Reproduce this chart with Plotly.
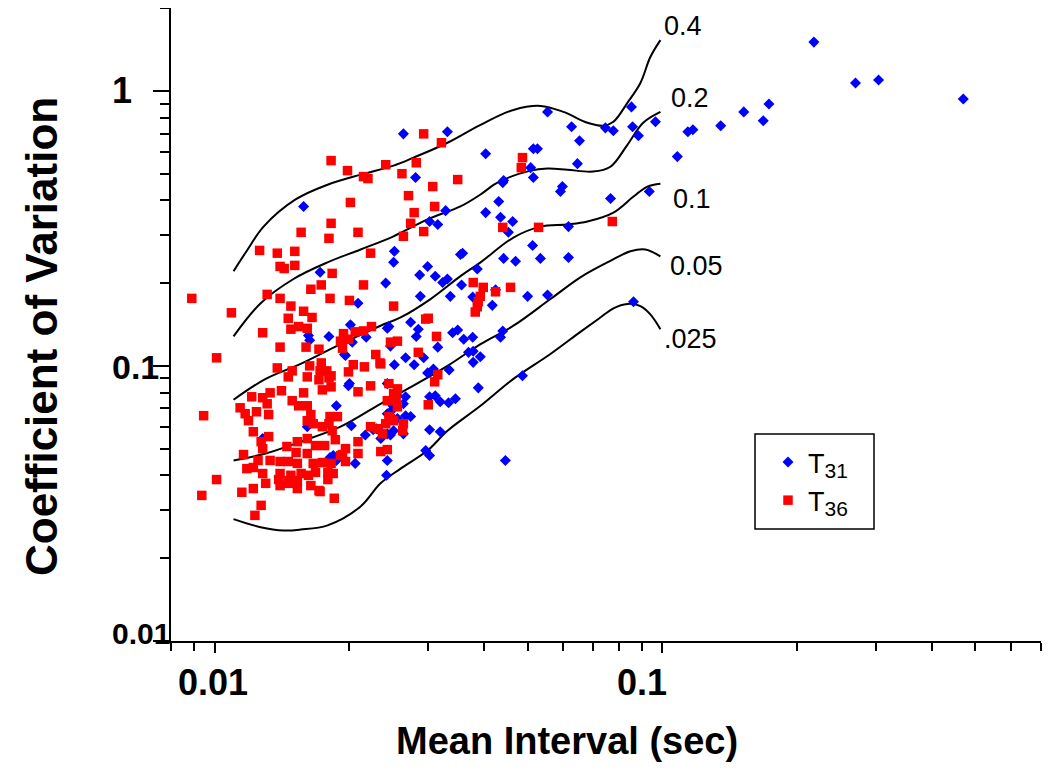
import math
import plotly.graph_objects as go

# ---------------- data ----------------
t31_x = [0.218, 0.270, 0.304, 0.470, 0.173, 0.168, 0.152, 0.135, 0.117, 0.114,
         0.108, 0.0965, 0.0853, 0.0858, 0.0884, 0.0777, 0.0746, 0.0766, 0.0935, 0.0862,
         0.0264, 0.0331, 0.0554, 0.0627, 0.0653, 0.0403, 0.0515, 0.0526, 0.0646, 0.0508,
         0.0515, 0.0442, 0.0440, 0.0598, 0.0592, 0.0431, 0.0281, 0.0328, 0.0403, 0.0435,
         0.0463, 0.0453, 0.0302, 0.0315, 0.0617, 0.0513, 0.0252, 0.0251, 0.0358, 0.0442,
         0.0470, 0.0534, 0.0617, 0.0299, 0.0287, 0.0386, 0.0241, 0.0311, 0.0323, 0.0331,
         0.0356, 0.0336, 0.0288, 0.0377, 0.0417, 0.0424, 0.0500, 0.0554, 0.0274, 0.0243,
         0.0285, 0.0282, 0.0340, 0.0349, 0.0360, 0.0377, 0.0440, 0.0435, 0.0315, 0.0247,
         0.0369, 0.0378, 0.0392, 0.0378, 0.0267, 0.0293, 0.0279, 0.0252, 0.0299, 0.0308,
         0.0334, 0.0487, 0.0388, 0.0243, 0.0302, 0.0311, 0.0319, 0.0333, 0.0345, 0.0254,
         0.0267, 0.0267, 0.0274, 0.0247, 0.0302, 0.0319, 0.0296, 0.0302, 0.0446, 0.0243,
         0.0242, 0.0158, 0.0172, 0.0209, 0.0201, 0.0245, 0.0162, 0.0163, 0.0180, 0.0203,
         0.0218, 0.0195, 0.0187, 0.0161, 0.0202, 0.0217, 0.0226, 0.0243, 0.0250, 0.0256,
         0.0243, 0.0251, 0.0184, 0.0187, 0.0206, 0.0128, 0.0181, 0.0196, 0.0200, 0.0256,
         0.0264, 0.0230, 0.0235, 0.0247, 0.0264, 0.0235, 0.0199, 0.0354]
t31_y = [1.505, 1.069, 1.096, 0.935, 0.897, 0.779, 0.839, 0.747, 0.722, 0.710,
         0.577, 0.772, 0.875, 0.741, 0.687, 0.716, 0.734, 0.406, 0.431, 0.171,
         0.698, 0.710, 0.839, 0.741, 0.659, 0.591, 0.616, 0.616, 0.544, 0.526,
         0.484, 0.472, 0.464, 0.449, 0.431, 0.396, 0.484, 0.367, 0.361, 0.347,
         0.335, 0.306, 0.335, 0.327, 0.321, 0.274, 0.261, 0.238, 0.257, 0.246,
         0.240, 0.246, 0.248, 0.230, 0.214, 0.225, 0.200, 0.212, 0.201, 0.207,
         0.197, 0.179, 0.179, 0.178, 0.166, 0.189, 0.179, 0.181, 0.144, 0.137,
         0.136, 0.128, 0.132, 0.135, 0.125, 0.127, 0.134, 0.127, 0.117, 0.118,
         0.112, 0.113, 0.108, 0.103, 0.107, 0.107, 0.101, 0.101, 0.0943, 0.0975,
         0.0967, 0.0920, 0.0832, 0.0862, 0.0772, 0.0778, 0.0741, 0.0734, 0.0759, 0.0778,
         0.0772, 0.0659, 0.0654, 0.0681, 0.0586, 0.0576, 0.0492, 0.0472, 0.0453, 0.0453,
         0.0400, 0.380, 0.219, 0.169, 0.141, 0.139, 0.129, 0.124, 0.128, 0.122,
         0.127, 0.110, 0.0716, 0.0601, 0.0606, 0.0561, 0.0586, 0.0670, 0.0716, 0.0643,
         0.0566, 0.0581, 0.0472, 0.0453, 0.0442, 0.0544, 0.0464, 0.109, 0.0862, 0.0778,
         0.0728, 0.0591, 0.0544, 0.0561, 0.0566, 0.0576, 0.0847, 0.254]

t36_x = [0.0773, 0.0293, 0.0321, 0.0241, 0.0282, 0.0262, 0.0349, 0.0307, 0.0271, 0.0310,
         0.0279, 0.0274, 0.0293, 0.0264, 0.0487, 0.0484, 0.0440, 0.0529, 0.0182, 0.0198,
         0.0201, 0.0209, 0.0215, 0.0220, 0.0182, 0.0180, 0.0156, 0.0223, 0.0126, 0.0138,
         0.0151, 0.0140, 0.0143, 0.0151, 0.0183, 0.0173, 0.0164, 0.0131, 0.0140, 0.0181,
         0.0200, 0.0215, 0.0251, 0.0109, 0.0148, 0.0158, 0.0165, 0.0146, 0.0128, 0.0148,
         0.0154, 0.0161, 0.0140, 0.0160, 0.0171, 0.0194, 0.0191, 0.0199, 0.0193, 0.0206,
         0.0215, 0.0224, 0.0101, 0.0138, 0.0149, 0.0163, 0.0173, 0.0172, 0.0178, 0.0182,
         0.0204, 0.0199, 0.0216, 0.0229, 0.0234, 0.0247, 0.0256, 0.00889, 0.00945, 0.0101,
         0.00936, 0.0115, 0.0122, 0.0127, 0.0123, 0.0185, 0.0146, 0.0161, 0.0171, 0.0180,
         0.0182, 0.0174, 0.0141, 0.0133, 0.0128, 0.0131, 0.0121, 0.0149, 0.0158, 0.0154,
         0.0161, 0.0114, 0.0117, 0.0119, 0.0124, 0.0132, 0.0164, 0.0161, 0.0122, 0.0166,
         0.0174, 0.0181, 0.0188, 0.0180, 0.0183, 0.0132, 0.0127, 0.0128, 0.0145, 0.0153,
         0.0161, 0.0168, 0.0176, 0.0186, 0.0152, 0.0161, 0.0116, 0.0125, 0.0133, 0.0140,
         0.0146, 0.0153, 0.0166, 0.0174, 0.0182, 0.0191, 0.0196, 0.0118, 0.0122, 0.0128,
         0.0140, 0.0148, 0.0156, 0.0139, 0.0146, 0.0153, 0.0162, 0.0168, 0.0179, 0.0184,
         0.0179, 0.0130, 0.0140, 0.0146, 0.0153, 0.0164, 0.0171, 0.0209, 0.0209, 0.0196,
         0.0193, 0.0223, 0.0231, 0.0241, 0.0245, 0.0251, 0.0237, 0.0223, 0.0235, 0.0243,
         0.0254, 0.0256, 0.0247, 0.0300, 0.0315, 0.0310, 0.0313, 0.0285, 0.0235, 0.0209,
         0.0245, 0.0256, 0.0251, 0.0254, 0.0243, 0.0264, 0.0263, 0.0296, 0.0300, 0.0378,
         0.0398, 0.0392, 0.0388, 0.0386, 0.0382, 0.0424, 0.0458, 0.0172]
t36_y = [0.335, 0.698, 0.648, 0.539, 0.548, 0.500, 0.476, 0.449, 0.416, 0.380,
         0.361, 0.330, 0.308, 0.296, 0.572, 0.526, 0.319, 0.319, 0.558, 0.513,
         0.393, 0.306, 0.488, 0.480, 0.330, 0.291, 0.306, 0.257, 0.263, 0.257,
         0.261, 0.230, 0.226, 0.232, 0.217, 0.197, 0.190, 0.182, 0.176, 0.176,
         0.173, 0.197, 0.165, 0.156, 0.165, 0.158, 0.150, 0.149, 0.132, 0.136,
         0.139, 0.137, 0.117, 0.117, 0.115, 0.131, 0.123, 0.125, 0.116, 0.133,
         0.134, 0.139, 0.107, 0.0983, 0.0959, 0.100, 0.1025, 0.0959, 0.0959, 0.0920,
         0.101, 0.0951, 0.0992, 0.110, 0.1025, 0.122, 0.123, 0.176, 0.0659, 0.0386,
         0.0338, 0.0347, 0.0358, 0.0311, 0.0286, 0.0330, 0.0912, 0.0912, 0.0890, 0.0905,
         0.0839, 0.0818, 0.0812, 0.0798, 0.0766, 0.0728, 0.0772, 0.0747, 0.0798, 0.0716,
         0.0716, 0.0704, 0.0670, 0.0632, 0.0681, 0.0665, 0.0665, 0.0632, 0.0576, 0.0616,
         0.0601, 0.0654, 0.0654, 0.0616, 0.0581, 0.0553, 0.0530, 0.0500, 0.0509, 0.0530,
         0.0544, 0.0513, 0.0513, 0.0539, 0.0484, 0.0480, 0.0476, 0.0453, 0.0453, 0.0449,
         0.0449, 0.0442, 0.0442, 0.0445, 0.0442, 0.0472, 0.0449, 0.0423, 0.0427, 0.0406,
         0.0406, 0.0400, 0.0406, 0.0386, 0.0383, 0.0383, 0.0400, 0.0410, 0.0410, 0.0406,
         0.0386, 0.0374, 0.0367, 0.0374, 0.0358, 0.0367, 0.0352, 0.0530, 0.0480, 0.0500,
         0.0476, 0.0846, 0.0591, 0.0616, 0.0654, 0.0632, 0.0566, 0.0601, 0.0488, 0.0496,
         0.0766, 0.0710, 0.0643, 0.0722, 0.0928, 0.0875, 0.128, 0.112, 0.1017, 0.0805,
         0.0862, 0.0825, 0.0792, 0.0747, 0.0747, 0.0616, 0.0581, 0.148, 0.149, 0.201,
         0.193, 0.179, 0.171, 0.164, 0.157, 0.186, 0.193, 0.0349]

# contour curves (label, x, y)
curve_labels = ["0.4", "0.2", "0.1", "0.05", ".025"]
curve_04_x = [0.01102, 0.01185, 0.01286, 0.01516, 0.01787, 0.02118, 0.02509, 0.02781, 0.03312, 0.03925,
              0.04649, 0.05342, 0.06012, 0.06801, 0.07384, 0.07774, 0.08354, 0.08931, 0.0940, 0.099]
curve_04_y = [0.221, 0.265, 0.321, 0.403, 0.456, 0.496, 0.535, 0.572, 0.648, 0.753,
              0.853, 0.882, 0.839, 0.766, 0.747, 0.772, 0.905, 1.069, 1.328, 1.530]
curve_02_x = [0.01102, 0.01267, 0.0150, 0.01787, 0.02118, 0.02509, 0.02988, 0.0354, 0.03925, 0.04282,
              0.05075, 0.05537, 0.06136, 0.0700, 0.07655, 0.08354, 0.0906, 0.099]
curve_02_y = [0.128, 0.169, 0.207, 0.238, 0.265, 0.296, 0.341, 0.380, 0.420, 0.464,
              0.513, 0.522, 0.517, 0.509, 0.530, 0.637, 0.766, 0.839]
curve_01_x = [0.01102, 0.0130, 0.01556, 0.01911, 0.02347, 0.02602, 0.03035, 0.0354, 0.03925, 0.04649,
              0.05342, 0.06136, 0.06801, 0.07774, 0.0862, 0.0926, 0.099]
curve_01_y = [0.0753, 0.0897, 0.1017, 0.120, 0.140, 0.150, 0.175, 0.212, 0.238, 0.293,
              0.321, 0.327, 0.335, 0.361, 0.413, 0.449, 0.460]
curve_005_x = [0.01102, 0.0130, 0.01556, 0.01911, 0.02347, 0.02602, 0.03312, 0.03925, 0.04649, 0.05623,
               0.06561, 0.07655, 0.08483, 0.0916, 0.099]
curve_005_y = [0.0453, 0.0480, 0.0530, 0.0601, 0.0728, 0.0798, 0.100, 0.120, 0.140, 0.175,
               0.210, 0.241, 0.261, 0.265, 0.250]
curve_0025_x = [0.01102, 0.01267, 0.01426, 0.01556, 0.01787, 0.02118, 0.02347, 0.02602, 0.02988, 0.03312,
                0.03925, 0.04649, 0.05623, 0.06561, 0.07271, 0.07774, 0.08354, 0.08931, 0.0940, 0.099]
curve_0025_y = [0.0277, 0.0259, 0.0252, 0.0254, 0.0263, 0.0308, 0.0374, 0.0423, 0.0492, 0.0581,
                0.0716, 0.0897, 0.1105, 0.133, 0.150, 0.162, 0.168, 0.165, 0.154, 0.136]

x_major = [0.01, 0.1]
x_minor = [0.008, 0.009, 0.02, 0.03, 0.04, 0.05, 0.06, 0.07, 0.08, 0.09,
           0.2, 0.3, 0.4, 0.5, 0.6, 0.7]
y_major = [0.01, 0.1, 1]
y_minor = [0.02, 0.03, 0.04, 0.05, 0.06, 0.07, 0.08, 0.09,
           0.2, 0.3, 0.4, 0.5, 0.6, 0.7, 0.8, 0.9, 2]
x_tick_text = ["0.01", "0.1"]
y_tick_text = ["0.01", "0.1", "1"]

# ---------------- figure ----------------
FONT = "Liberation Sans, Arial, Helvetica, sans-serif"
OFF = 8                      # page body margin of the html page
W, H = 1034, 760
L, T = 171 - OFF, 0
R = W - (1041 - OFF)
B = H - (641 - OFF)
PW, PH = W - L - R, H - T - B


def px(xs):
    """screen x (pixels) -> paper coordinate"""
    return (xs - OFF - L) / PW


def py(ys):
    """screen y (pixels) -> paper coordinate"""
    return (H - B - (ys - OFF)) / PH


fig = go.Figure()

curves = [(curve_04_x, curve_04_y), (curve_02_x, curve_02_y), (curve_01_x, curve_01_y),
          (curve_005_x, curve_005_y), (curve_0025_x, curve_0025_y)]
for (cx, cy), lab in zip(curves, curve_labels):
    fig.add_trace(go.Scatter(x=cx, y=cy, mode="lines", name=lab, showlegend=False,
                             line=dict(color="black", width=2, shape="spline", smoothing=1.0),
                             hoverinfo="skip"))

fig.add_trace(go.Scatter(x=t31_x, y=t31_y, mode="markers",
                         name='T<sub><span style="font-size:21px">31</span></sub>',
                         marker=dict(symbol="diamond", size=8.5, color="#0000FF",
                                     line=dict(width=0))))
fig.add_trace(go.Scatter(x=t36_x, y=t36_y, mode="markers",
                         name='T<sub><span style="font-size:21px">36</span></sub>',
                         marker=dict(symbol="square", size=9.5, color="#FF0000",
                                     line=dict(width=0))))

tickstyle = dict(ticks="outside", tickcolor="black", tickwidth=2)
fig.update_xaxes(type="log", range=[math.log10(0.008) - 0.0006, math.log10(0.7) + 0.0006],
                 showline=True, linecolor="black", linewidth=2, showgrid=False, zeroline=False,
                 tickmode="array", tickvals=x_major, showticklabels=False, ticklen=10, **tickstyle,
                 minor=dict(tickmode="array", tickvals=x_minor, ticklen=8, showgrid=False, **tickstyle))
fig.update_yaxes(type="log", range=[-2 - 0.0006, math.log10(2) + 0.0006],
                 showline=True, linecolor="black", linewidth=2, showgrid=False, zeroline=False,
                 tickmode="array", tickvals=y_major, showticklabels=False, ticklen=16, **tickstyle,
                 minor=dict(tickmode="array", tickvals=y_minor, ticklen=9, showgrid=False, **tickstyle))

ann = []
# tick labels
for txt, xs in zip(x_tick_text, [213, 642]):
    ann.append(dict(text=txt, x=px(xs), y=py(682), xref="paper", yref="paper",
                    xanchor="center", yanchor="middle", showarrow=False,
                    font=dict(family=FONT, size=36, color="black", weight="bold")))
for txt, ys, fs in zip(y_tick_text, [633, 367, 91], [30, 34, 36]):
    ann.append(dict(text=txt, x=px(110), y=py(ys), xref="paper", yref="paper",
                    xanchor="left", yanchor="middle", showarrow=False,
                    font=dict(family=FONT, size=fs, color="black", weight="bold")))
# axis titles
ann.append(dict(text="Mean Interval (sec)", x=px(567), y=py(741), xref="paper", yref="paper",
                xanchor="center", yanchor="middle", showarrow=False,
                font=dict(family=FONT, size=38, color="black", weight="bold")))
ann.append(dict(text="Coefficient of Variation", x=px(41), y=py(337), xref="paper", yref="paper",
                xanchor="center", yanchor="middle", showarrow=False, textangle=-90,
                font=dict(family=FONT, size=44, color="black", weight="bold")))
# curve labels
for txt, (xs, ys) in zip(curve_labels, [(683, 26), (690, 98), (692, 199), (696, 266), (690, 339)]):
    ann.append(dict(text=txt, x=px(xs), y=py(ys), xref="paper", yref="paper",
                    xanchor="center", yanchor="middle", showarrow=False,
                    font=dict(family=FONT, size=27, color="black")))

fig.update_layout(
    width=W, height=H, autosize=False,
    margin=dict(l=L, r=R, t=T, b=B, pad=0),
    plot_bgcolor="white", paper_bgcolor="white",
    annotations=ann,
    shapes=[dict(type="rect", xref="paper", yref="paper",
                 x0=px(755), x1=px(874), y0=py(529), y1=py(434),
                 line=dict(color="black", width=1.5), fillcolor="rgba(0,0,0,0)")],
    legend=dict(x=px(768), y=py(438), xanchor="left", yanchor="top",
                bgcolor="rgba(0,0,0,0)", borderwidth=0,
                font=dict(family=FONT, size=27, color="black"), itemsizing="trace"),
    showlegend=True,
)

fig.write_html("out.html")
